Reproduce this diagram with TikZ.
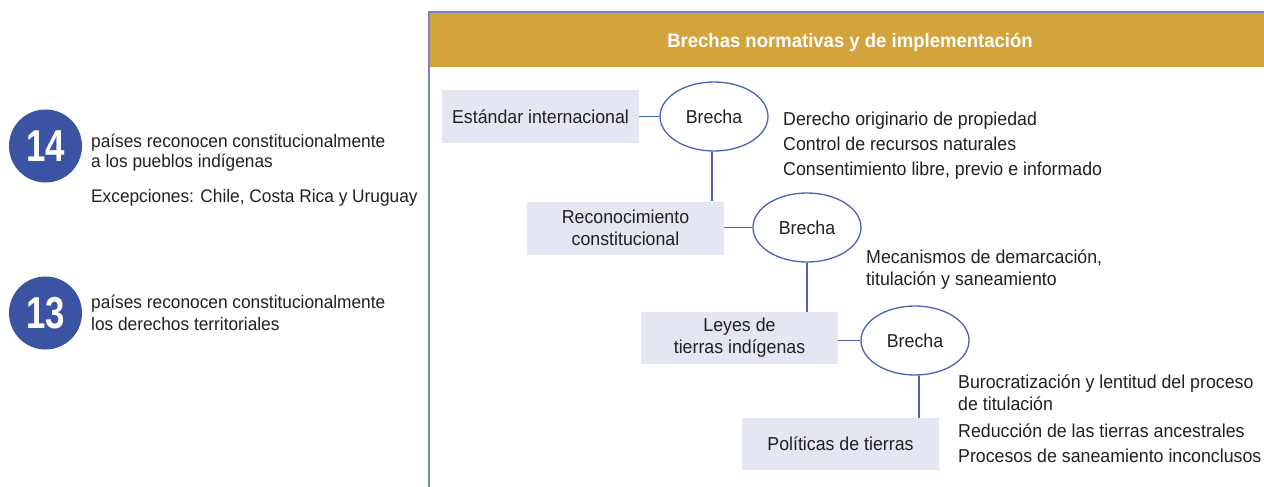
\documentclass[tikz,border=0pt]{standalone}
\usepackage{fontspec}
\setmainfont{Liberation Sans}[FakeStretch=0.95]
\newfontfamily\numfont{Liberation Sans}[FakeStretch=0.78]
\usetikzlibrary{shapes.geometric}
\definecolor{bluedot}{HTML}{3A53A3}
\definecolor{lineblue}{HTML}{4A63B0}
\definecolor{frameblue}{HTML}{7784C4}
\definecolor{boxfill}{HTML}{E4E7F1}
\definecolor{gold}{HTML}{D4A43C}
\definecolor{txt}{HTML}{231F20}
\tikzset{
  txtline/.style={anchor=base west, inner sep=0pt, text=txt, font=\fontsize{18.7}{22}\selectfont},
  lefttxt/.style={anchor=base west, inner sep=0pt, text=txt, font=\fontsize{18.2}{21}\selectfont},
  graybox/.style={fill=boxfill, draw=none, minimum width=197pt, minimum height=53pt, inner sep=0pt,
     align=center, text=txt, font=\fontsize{18.7}{22}\selectfont},
  gap/.style={ellipse, draw=lineblue, line width=1.3pt, minimum width=108pt, minimum height=69pt, inner sep=0pt,
     text=txt, font=\fontsize{18.7}{22}\selectfont},
  conn/.style={draw=lineblue, line width=1.3pt},
  numdot/.style={circle, fill=bluedot, minimum size=73pt, inner sep=0pt, text=white,
     font=\numfont\bfseries\fontsize{44.7}{44.7}\selectfont}
}
\begin{document}
\begin{tikzpicture}[x=1pt,y=-1pt]
\useasboundingbox (0,0) rectangle (1264,487);
% left stats
\node[numdot] (n14) at (45.5,146) {14};
\node[lefttxt] (t14a) at (91,147) {países reconocen constitucionalmente};
\node[lefttxt] (t14b) at (91,167) {a los pueblos indígenas};
\node[lefttxt] (t14c) at (91,202) {Excepciones: Chile, Costa Rica y Uruguay};
\node[numdot] (n13) at (45.5,313) {13};
\node[lefttxt] (t13a) at (91,308) {países reconocen constitucionalmente};
\node[lefttxt] (t13b) at (91,330) {los derechos territoriales};
% frame and header
\fill[gold] (430,13) rectangle (1264,67);
\draw[frameblue, line width=2pt] (429,487) -- (429,12) -- (1264,12);
\node[text=white, inner sep=0pt, font=\bfseries\fontsize{19.5}{22}\selectfont] (title) at (850,42) {Brechas normativas y de implementación};
% boxes
\node[graybox] (b1) at (540.5,116.5) {Estándar internacional};
\node[graybox] (b2) at (625.5,228) {Reconocimiento\\constitucional};
\node[graybox, minimum height=52pt] (b3) at (739.5,338) {Leyes de\\tierras indígenas};
\node[graybox, minimum height=52pt] (b4) at (840.5,444) {Políticas de tierras};
% ellipses
\node[gap] (e1) at (714,116.5) {Brecha};
\node[gap] (e2) at (807,227.5) {Brecha};
\node[gap] (e3) at (915,340.5) {Brecha};
% connectors
\draw[conn] (e1.west -| b1.east) -- (e1.west);
\draw[conn] ([xshift=-2pt]e1.south) -- ([xshift=-2pt]e1.south |- b2.north);
\draw[conn] (e2.west -| b2.east) -- (e2.west);
\draw[conn] (e2.south) -- (e2.south |- b3.north);
\draw[conn] (e3.west -| b3.east) -- (e3.west);
\draw[conn] ([xshift=4pt]e3.south) -- ([xshift=4pt]e3.south |- b4.north);
% gap descriptions
\node[txtline] (d1a) at (783,125) {Derecho originario de propiedad};
\node[txtline] (d1b) at (783,150) {Control de recursos naturales};
\node[txtline] (d1c) at (783,175) {Consentimiento libre, previo e informado};
\node[txtline] (d2a) at (866,263) {Mecanismos de demarcación,};
\node[txtline] (d2b) at (866,285) {titulación y saneamiento};
\node[txtline] (d3a) at (958,388) {Burocratización y lentitud del proceso};
\node[txtline] (d3b) at (958,410) {de titulación};
\node[txtline] (d3c) at (958,437) {Reducción de las tierras ancestrales};
\node[txtline] (d3d) at (958,462) {Procesos de saneamiento inconclusos};
\end{tikzpicture}
\end{document}
